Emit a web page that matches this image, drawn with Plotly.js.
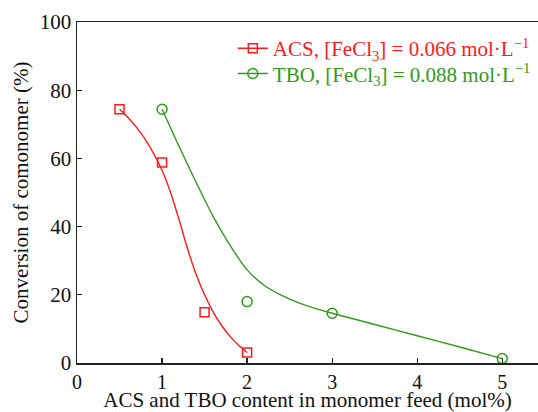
<!DOCTYPE html>
<html>
<head>
<meta charset="utf-8">
<script src="https://cdn.plot.ly/plotly-3.0.1.min.js"></script>
<style>html,body{margin:0;padding:0;background:#fff;}#chart{width:538px;height:412px;}</style>
</head>
<body>
<div id="chart"></div>
<script>
// Measured points
const acsX = [0.5, 1, 1.5, 2];
const acsY = [74.4, 58.8, 14.9, 3.1];
const tboX = [1, 2, 3, 5];
const tboY = [74.4, 18.0, 14.6, 1.3];
// Fitted curves
const acsFitX = [0.5, 0.6, 0.75, 0.9, 1.0, 1.1, 1.2, 1.3, 1.4, 1.5, 1.6, 1.7, 1.8, 1.9, 2.0];
const acsFitY = [74.4, 72.0, 67.5, 61.5, 56.5, 50.0, 42.0, 33.5, 26.0, 20.0, 15.0, 11.0, 7.8, 5.2, 3.1];
const tboFitX = [1.0, 1.2, 1.4, 1.6, 1.8, 2.0, 2.2, 2.4, 2.6, 2.8, 3.0, 3.5, 4.0, 4.5, 5.0];
const tboFitY = [74.4, 63.5, 53.0, 43.0, 34.5, 27.3, 22.8, 19.9, 17.7, 16.0, 14.6, 11.3, 8.0, 4.7, 1.3];
// Tick labels
const xTicks = [0, 1, 2, 3, 4, 5];
const yTicks = [0, 20, 40, 60, 80, 100];
// Legend labels
const acsName = 'ACS, [FeCl<sub>3</sub>] = 0.066 mol·L<sup>−1</sup>';
const tboName = 'TBO, [FeCl<sub>3</sub>] = 0.088 mol·L<sup>−1</sup>';

const red = '#ff1a1a';
const green = '#2f9c18';
const font = 'Times New Roman, Times, Liberation Serif, serif';

const traces = [
  {x: acsFitX, y: acsFitY, mode: 'lines', line: {color: red, width: 1.4, shape: 'spline', smoothing: 0.8}, showlegend: false, hoverinfo: 'skip'},
  {x: tboFitX, y: tboFitY, mode: 'lines', line: {color: green, width: 1.4, shape: 'spline', smoothing: 0.8}, showlegend: false, hoverinfo: 'skip'},
  {x: acsX, y: acsY, mode: 'markers', marker: {symbol: 'square-open', size: 9, color: red, line: {width: 1.5, color: red}}, showlegend: false},
  {x: tboX, y: tboY, mode: 'markers', marker: {symbol: 'circle-open', size: 10, color: green, line: {width: 1.5, color: green}}, showlegend: false},
  {x: [null], y: [null], mode: 'lines+markers', legend: 'legend', name: '<span style="color:' + red + '">' + acsName + '</span>',
   line: {color: red, width: 1.4}, marker: {symbol: 'square-open', size: 9, color: red, line: {width: 1.5, color: red}}},
  {x: [null], y: [null], mode: 'lines+markers', legend: 'legend2', name: '<span style="color:' + green + '">' + tboName + '</span>',
   line: {color: green, width: 1.4}, marker: {symbol: 'circle-open', size: 10, color: green, line: {width: 1.5, color: green}}}
];

const legendBase = {xanchor: 'left', yanchor: 'top', bgcolor: 'rgba(0,0,0,0)', borderwidth: 0, font: {family: font, size: 21}, itemclick: false};

const layout = {
  width: 538, height: 412,
  margin: {l: 77, r: 0, t: 22, b: 49},
  paper_bgcolor: '#fff', plot_bgcolor: '#fff',
  font: {family: font, size: 21, color: '#111'},
  showlegend: true,
  legend: Object.assign({}, legendBase, {x: 0.338, y: 0.982}),
  legend2: Object.assign({}, legendBase, {x: 0.338, y: 0.908}),
  xaxis: {
    range: [0, 5.42], tickvals: xTicks, ticktext: xTicks.map(String),
    ticks: 'inside', ticklen: 5, tickwidth: 1.3, tickcolor: '#222',
    showline: true, linecolor: '#222', linewidth: 1.5, mirror: true,
    showgrid: false, zeroline: false,
    tickfont: {family: font, size: 20, color: '#111'},
    title: {text: 'ACS and TBO content in monomer feed (mol%)', font: {family: font, size: 21, color: '#111'}, standoff: 3}
  },
  yaxis: {
    range: [0, 100], tickvals: yTicks, ticktext: yTicks.map(String),
    ticks: 'inside', ticklen: 5, tickwidth: 1.3, tickcolor: '#222',
    showline: true, linecolor: '#222', linewidth: 1.5,
    showgrid: false, zeroline: false,
    tickfont: {family: font, size: 21, color: '#111'},
    title: {text: 'Conversion of comonomer (%)', font: {family: font, size: 21, color: '#111'}, standoff: 5}
  }
};

Plotly.newPlot('chart', traces, layout, {displayModeBar: false, staticPlot: true});
</script>
</body>
</html>
